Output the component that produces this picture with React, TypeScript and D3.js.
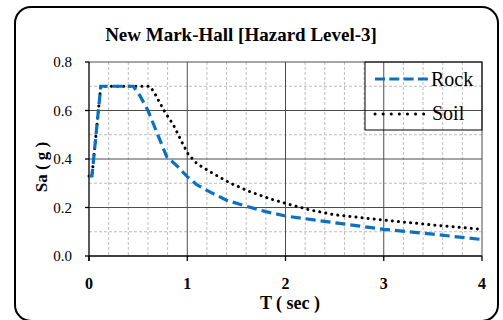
import React from 'react';
import * as d3 from 'd3';

// periods (sec) and spectral acceleration (g)
const rockT = [0, 0.03, 0.12, 0.45, 0.52, 0.6, 0.69, 0.79, 0.9, 1.0, 1.1, 1.25, 1.4, 1.6, 1.8, 2.0, 2.5, 3.0, 3.5, 4.0];
const rockSa = [0.33, 0.33, 0.70, 0.70, 0.66, 0.60, 0.51, 0.41, 0.37, 0.327, 0.293, 0.26, 0.23, 0.205, 0.183, 0.165, 0.137, 0.11, 0.09, 0.068];
const soilT = [0, 0.03, 0.12, 0.62, 0.67, 0.77, 0.86, 0.96, 1.01, 1.1, 1.23, 1.44, 1.64, 1.85, 2.0, 2.25, 2.5, 3.0, 3.5, 4.0];
const soilSa = [0.33, 0.33, 0.70, 0.70, 0.67, 0.595, 0.54, 0.458, 0.42, 0.38, 0.348, 0.30, 0.265, 0.235, 0.217, 0.19, 0.17, 0.148, 0.128, 0.11];

const xMajor = [0, 1, 2, 3, 4];
const yMajor = [0, 0.2, 0.4, 0.6, 0.8];

const title = 'New Mark-Hall [Hazard Level-3]';
const seriesNames = ['Rock', 'Soil'];

const tf = { fontFamily: 'Liberation Serif' };

export default function App() {
  const W = 503, H = 320;
  const x = d3.scaleLinear().domain([0, 4]).range([89, 482]);
  const y = d3.scaleLinear().domain([0, 0.8]).range([256, 62]);

  const xMinor = d3.range(0, 4.001, 0.2).filter((v) => Math.abs(v - Math.round(v)) > 1e-6);
  const yMinor = d3.range(0.1, 0.8, 0.2);

  const line = d3.line<[number, number]>().x((d) => x(d[0])).y((d) => y(d[1]));
  const rock = line(rockT.map((t, i) => [t, rockSa[i]]) as [number, number][]);
  const soil = line(soilT.map((t, i) => [t, soilSa[i]]) as [number, number][]);

  return (
    <svg width={W} height={H} style={{ position: 'fixed', left: 0, top: 0, background: '#fff' }}>
      <rect x={15} y={7} width={483} height={314} rx={16} fill="#fff" stroke="#000" strokeWidth={2} />

      <text x={241} y={41} textAnchor="middle" fontSize={19} fontWeight="bold" style={tf}>{title}</text>

      {/* minor grid */}
      {xMinor.map((v) => (
        <line key={'xm' + v} x1={x(v)} x2={x(v)} y1={y(0.8)} y2={y(0)} stroke="#bdbdbd" strokeWidth={1} strokeDasharray="3,2" />
      ))}
      {yMinor.map((v) => (
        <line key={'ym' + v} x1={x(0)} x2={x(4)} y1={y(v)} y2={y(v)} stroke="#bdbdbd" strokeWidth={1} strokeDasharray="3,2" />
      ))}
      {/* major grid */}
      {xMajor.slice(1).map((v) => (
        <line key={'xg' + v} x1={x(v)} x2={x(v)} y1={y(0.8)} y2={y(0)} stroke="#4d4d4d" strokeWidth={1} />
      ))}
      {yMajor.slice(1).map((v) => (
        <line key={'yg' + v} x1={x(0)} x2={x(4)} y1={y(v)} y2={y(v)} stroke="#4d4d4d" strokeWidth={1} />
      ))}

      {/* axes */}
      <line x1={x(0)} x2={x(0)} y1={y(0.8)} y2={y(0) + 5} stroke="#000" strokeWidth={1.3} />
      <line x1={x(0)} x2={x(4)} y1={y(0)} y2={y(0)} stroke="#000" strokeWidth={1.3} />
      {yMajor.map((v) => (
        <g key={'yt' + v}>
          <line x1={x(0) - 4} x2={x(0)} y1={y(v)} y2={y(v)} stroke="#000" strokeWidth={1.3} />
          <text x={72} y={y(v) + 5} textAnchor="end" fontSize={15} style={tf}>{d3.format('.1f')(v)}</text>
        </g>
      ))}
      {xMajor.map((v) => (
        <g key={'xt' + v}>
          <line x1={x(v)} x2={x(v)} y1={y(0)} y2={y(0) + 5} stroke="#000" strokeWidth={1.3} />
          <text x={x(v)} y={288.5} textAnchor="middle" fontSize={16} fontWeight="bold" style={tf}>{v}</text>
        </g>
      ))}

      <text x={290} y={309} textAnchor="middle" fontSize={18} fontWeight="bold" style={tf}>T ( sec )</text>
      <text transform="translate(47,167) rotate(-90)" textAnchor="middle" fontSize={17} fontWeight="bold" style={tf}>Sa ( g )</text>

      {/* series */}
      <path d={soil ?? ''} fill="none" stroke="#000" strokeWidth={3} strokeDasharray="0.1,6" strokeLinecap="round" />
      <path d={rock ?? ''} fill="none" stroke="#0a70c0" strokeWidth={3.2} strokeDasharray="10,5" />

      {/* legend */}
      <rect x={365} y={62} width={117} height={68} fill="none" stroke="#000" strokeWidth={1} />
      <line x1={375} x2={428} y1={79} y2={79} stroke="#0a70c0" strokeWidth={3.2} strokeDasharray="10,4.3" />
      <text x={431} y={86} fontSize={20} style={tf}>{seriesNames[0]}</text>
      <line x1={375} x2={424} y1={114} y2={114} stroke="#000" strokeWidth={3} strokeDasharray="0.1,8" strokeLinecap="round" />
      <text x={432} y={120} fontSize={20} style={tf}>{seriesNames[1]}</text>
    </svg>
  );
}
